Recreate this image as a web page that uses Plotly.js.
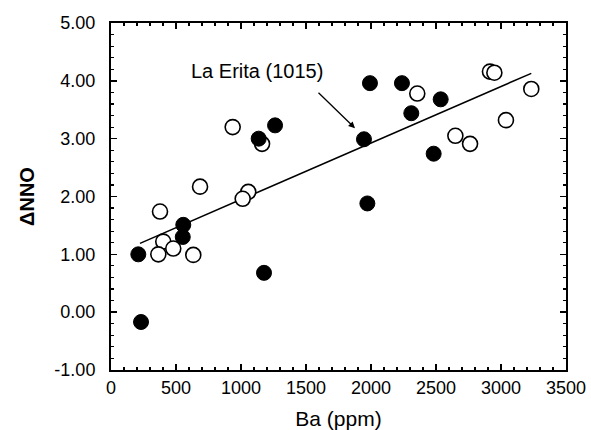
<!DOCTYPE html>
<html>
<head>
<meta charset="utf-8">
<script src="https://cdn.plot.ly/plotly-3.0.1.min.js"></script>
<style>html,body{margin:0;padding:0;background:#fff;}#chart{width:591px;height:430px;}</style>
</head>
<body>
<div id="chart"></div>
<script>
// Open-circle samples
const openBa  = [936, 1162, 685, 1056, 1013, 2356, 2649, 2762, 3038, 2915, 2949, 3233, 377, 402, 479, 364, 633];
const openNNO = [3.20, 2.91, 2.17, 2.08, 1.96, 3.78, 3.05, 2.91, 3.32, 4.16, 4.14, 3.86, 1.74, 1.22, 1.10, 1.00, 0.99];
// Filled-circle samples
const filledBa  = [1262, 1136, 1992, 2238, 2536, 2310, 1946, 2482, 1972, 556, 552, 210, 1177, 231];
const filledNNO = [3.23, 3.00, 3.96, 3.96, 3.68, 3.44, 2.99, 2.74, 1.88, 1.51, 1.30, 1.00, 0.68, -0.17];
// Regression line end points
const fitBa  = [223, 3233];
const fitNNO = [1.19, 4.13];
// Annotation target (La Erita sample 1015)
const laEritaBa = 1877, laEritaNNO = 3.18;
const labelBa = 1121, labelNNO = 4.17;
// Tick labels
const xTickVals = [0, 500, 1000, 1500, 2000, 2500, 3000, 3500];
const xTickText = ['0', '500', '1000', '1500', '2000', '2500', '3000', '3500'];
const yTickVals = [-1, 0, 1, 2, 3, 4, 5];
const yTickText = ['-1.00', '0.00', '1.00', '2.00', '3.00', '4.00', '5.00'];

const FONT = 'Liberation Sans, Arial, Helvetica, sans-serif';

const traces = [
  {x: fitBa, y: fitNNO, mode: 'lines', line: {color: '#000', width: 1.5}, hoverinfo: 'skip', showlegend: false},
  {x: openBa, y: openNNO, mode: 'markers', showlegend: false,
   marker: {symbol: 'circle', size: 15, color: '#fff', line: {color: '#000', width: 1.6}}},
  {x: filledBa, y: filledNNO, mode: 'markers', showlegend: false,
   marker: {symbol: 'circle', size: 15, color: '#000', line: {color: '#000', width: 1}}}
];

const layout = {
  width: 591, height: 430,
  margin: {l: 111, r: 25, t: 23, b: 60},
  paper_bgcolor: '#fff', plot_bgcolor: '#fff',
  font: {family: FONT, color: '#000', size: 18},
  showlegend: false,
  xaxis: {
    range: [0, 3500], tickvals: xTickVals, ticktext: xTickText,
    ticks: 'inside', ticklen: 6, tickwidth: 1.5, tickcolor: '#000',
    minor: {dtick: 100, ticks: 'inside', ticklen: 3, tickwidth: 1.2, tickcolor: '#000'},
    showline: true, linewidth: 2, linecolor: '#000', mirror: 'allticks',
    showgrid: false, zeroline: false, ticklabelstandoff: 0,
    tickfont: {family: FONT, size: 18, color: '#000'},
    title: {text: 'Ba (ppm)', font: {family: FONT, size: 21, color: '#000'}, standoff: 16}
  },
  yaxis: {
    range: [-1, 5], tickvals: yTickVals, ticktext: yTickText,
    ticks: 'inside', ticklen: 6, tickwidth: 1.5, tickcolor: '#000',
    minor: {dtick: 0.2, ticks: 'inside', ticklen: 3, tickwidth: 1.2, tickcolor: '#000'},
    showline: true, linewidth: 2, linecolor: '#000', mirror: 'allticks',
    showgrid: false, zeroline: false, ticklabelstandoff: 10,
    tickfont: {family: FONT, size: 18, color: '#000'},
    title: {text: '<b>ΔNNO</b>', font: {family: FONT, size: 20, color: '#000'}, standoff: 14}
  },
  annotations: [
    {x: laEritaBa, y: laEritaNNO, xref: 'x', yref: 'y', text: '', showarrow: true,
     ax: -38, ay: -37, arrowhead: 2, arrowsize: 1, arrowwidth: 1.3, arrowcolor: '#000'},
    {x: labelBa, y: labelNNO, xref: 'x', yref: 'y', text: 'La Erita (1015)', showarrow: false,
     font: {family: FONT, size: 20, color: '#000'}}
  ]
};

Plotly.newPlot('chart', traces, layout, {displayModeBar: false, staticPlot: true});
</script>
</body>
</html>
